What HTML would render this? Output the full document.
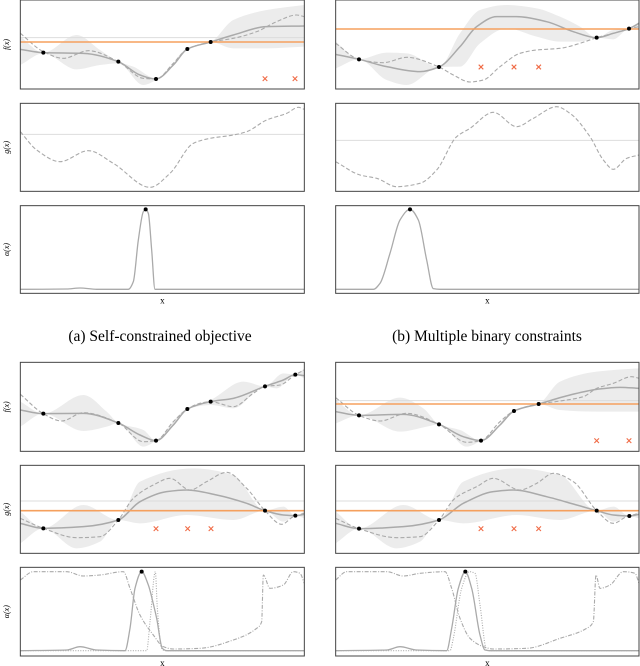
<!DOCTYPE html>
<html><head><meta charset="utf-8"><style>
html,body{margin:0;padding:0;background:#fff;}
svg{display:block;}
text{font-family:"Liberation Serif",serif;}
</style></head><body>
<svg id="fig" width="640" height="666" viewBox="0 0 640 666" xmlns="http://www.w3.org/2000/svg">
<text x="160" y="341" font-size="15.5" text-anchor="middle">(a) Self-constrained objective</text>
<text x="487" y="341" font-size="15.5" text-anchor="middle">(b) Multiple binary constraints</text>
</svg>
<script>
// ---- data (x in sample units, y in value units; larger y = lower on plot) ----
// Panel A (top-left)
const aFMean=[[61,148],[130,158],[250,160],[355,185],[420,225],[468,237],[520,195],[562,147],[632,126],[700,105],[800,80],[913,78]];
const aFTrue=[[61,100],[130,155],[190,175],[265,152],[355,185],[430,235],[468,237],[520,190],[562,147],[632,126],[700,115],[770,95],[830,65],[890,45],[913,50]];
const aFUp=[[61,110],[130,158],[230,105],[300,150],[355,185],[400,200],[468,235],[562,145],[632,126],[700,60],[800,30],[913,15]];
const aFLo=[[61,195],[130,160],[230,208],[300,195],[355,190],[430,255],[468,240],[562,150],[632,126],[700,145],[800,145],[913,140]];
const aFPts=[[130,158],[355,185],[468,237],[562,147],[632,126]];
const aFCross=[[795,236],[885,236]];
const aFOrange=126, aFThresh=113;
const aGTrue=[[61,395],[110,450],[180,485],[265,452],[340,490],[450,562],[510,520],[580,430],[630,415],[700,405],[740,395],[800,360],[860,340],[895,322],[913,328]];
const aGThresh=403;
const aAcq=[[61,868],[200,867],[240,864],[290,868],[385,868],[400,845],[415,720],[430,635],[437,628],[445,640],[455,750],[465,868],[913,868]];
const aAcqPt=[437,628];
// Panel B (top-right)
const bFMean=[[47,163],[117,178],[200,200],[300,215],[357,201],[420,140],[470,80],[530,50],[590,50],[680,65],[760,95],[830,113],[880,100],[927,86],[957,70]];
const bFTrue=[[47,130],[117,178],[190,188],[260,172],[357,201],[400,225],[450,246],[490,240],[540,200],[600,160],[650,150],[720,145],[780,130],[830,113],[880,100],[927,86],[957,80]];
const bFUp=[[47,125],[117,178],[200,158],[260,160],[357,201],[420,100],[480,30],[560,15],[650,25],[720,50],[780,80],[830,113],[880,90],[927,86],[957,65]];
const bFLo=[[47,205],[117,178],[200,240],[260,255],[357,201],[420,200],[480,130],[560,85],[650,110],[720,125],[780,125],[830,113],[880,118],[927,86],[957,85]];
const bFPts=[[117,178],[357,201],[830,113],[927,86]];
const bFCross=[[483,201],[582,201],[656,201]];
const bFOrange=87;
const bGTrue=[[47,485],[120,525],[170,535],[230,560],[300,550],[350,510],[410,410],[450,385],[520,337],[590,380],[640,355],[710,320],[750,340],[810,410],[850,480],[880,508],[920,475],[957,465]];
const bGThresh=421;
const bAcq=[[47,868],[160,868],[180,850],[210,760],[240,660],[270,628],[295,660],[320,780],[340,866],[360,868],[957,868]];
const bAcqPt=[270,628];
// Panel C (bottom-left)
const cFMean=[[61,165],[130,176],[250,175],[355,204],[420,240],[468,257],[520,210],[562,162],[632,140],[700,130],[795,94],[850,75],[886,59],[913,62]];
const cFTrue=[[61,118],[130,176],[185,198],[250,173],[355,204],[430,260],[468,257],[520,200],[562,162],[600,145],[632,140],[700,155],[760,115],[795,94],[840,90],[886,59],[913,45]];
const cFUp=[[61,140],[130,176],[250,120],[320,170],[355,204],[430,225],[468,257],[562,162],[632,135],[730,80],[795,94],[850,55],[886,59],[913,40]];
const cFLo=[[61,215],[130,176],[250,228],[320,215],[355,204],[430,275],[468,257],[562,162],[632,150],[700,160],[795,94],[830,100],[886,59],[913,70]];
const cFPts=[[130,176],[355,204],[468,257],[562,162],[632,140],[795,94],[886,59]];
const cGMean=[[61,505],[130,520],[250,515],[355,495],[420,440],[500,410],[560,405],[650,420],[740,445],[795,467],[850,480],[886,482],[913,478]];
const cGTrue=[[61,490],[130,520],[230,548],[300,545],[355,495],[400,430],[460,390],[510,370],[570,405],[620,380],[680,352],[740,400],[795,467],[845,508],[880,485],[913,475]];
const cGUp=[[61,470],[130,520],[250,450],[355,495],[420,380],[580,340],[700,360],[795,467],[850,455],[886,482],[913,470]];
const cGLo=[[61,565],[130,520],[230,580],[300,560],[355,495],[420,505],[560,480],[700,495],[795,467],[850,500],[886,482],[913,490]];
const cGPts=[[130,520],[355,495],[795,467],[886,482]];
const cGCross=[[468,521],[563,521],[633,521]];
const cGOrange=467, cGThresh=438;
const cAcqSolid=[[61,887],[200,885],[240,875],[290,885],[375,887],[390,820],[405,700],[425,650],[445,690],[462,755],[470,790],[487,880],[500,887],[913,887]];
const cAcqDot=[[61,887],[440,887],[450,800],[466,650],[472,760],[485,880],[495,887],[913,887]];
const cAcqDash=[[61,675],[100,650],[200,650],[250,663],[300,660],[370,650],[390,700],[420,780],[460,840],[490,875],[520,882],[600,880],[700,855],[770,820],[785,800],[790,660],[810,700],[850,690],[880,650],[900,655],[913,685]];
const cAcqPt=[425,650];
// Panel D (bottom-right)
const dFMean=[[47,170],[117,181],[250,178],[357,208],[430,245],[483,257],[540,210],[582,168],[656,147],[750,120],[830,103],[900,97],[957,100]];
const dFTrue=[[47,128],[117,181],[180,198],[260,175],[357,208],[440,262],[483,257],[540,200],[582,168],[656,147],[720,138],[790,125],[830,100],[880,85],[935,65],[957,70]];
const dFUp=[[47,135],[117,181],[240,128],[310,160],[357,208],[420,225],[483,257],[582,165],[656,147],[720,80],[830,50],[957,40]];
const dFLo=[[47,205],[117,181],[240,230],[320,215],[357,208],[440,275],[483,257],[582,172],[656,147],[720,165],[830,170],[957,170]];
const dFPts=[[117,181],[357,208],[483,257],[582,168],[656,147]];
const dFCross=[[830,257],[927,257]];
const dFOrange=147, dFThresh=137;
const dGMean=[[47,505],[117,521],[250,515],[357,495],[430,445],[520,410],[580,405],[680,425],[770,450],[830,467],[880,480],[928,483],[957,478]];
const dGTrue=[[47,490],[117,521],[230,548],[300,545],[357,495],[405,430],[470,395],[520,370],[600,405],[650,385],[700,355],[760,380],[830,467],[880,505],[920,485],[957,475]];
const dGUp=[[47,470],[117,521],[250,450],[357,495],[430,380],[590,340],[720,360],[830,467],[880,455],[928,483],[957,470]];
const dGLo=[[47,565],[117,521],[230,580],[300,560],[357,495],[430,505],[590,480],[720,495],[830,467],[880,500],[928,483],[957,490]];
const dGPts=[[117,521],[357,495],[830,467],[928,483]];
const dGCross=[[483,521],[582,521],[656,521]];
const dGOrange=467, dGThresh=438;
const dAcqSolid=[[47,887],[200,885],[240,875],[290,885],[380,887],[395,820],[415,700],[436,650],[455,700],[480,840],[495,885],[510,887],[957,887]];
const dAcqDot=[[47,887],[390,887],[400,850],[425,700],[448,650],[465,655],[480,750],[500,885],[510,887],[957,887]];
const dAcqDash=[[47,675],[80,650],[200,650],[250,663],[300,655],[375,650],[395,700],[420,790],[450,850],[490,875],[520,882],[620,880],[720,850],[800,820],[820,800],[828,660],[840,700],[870,690],[910,650],[945,655],[957,685]];
const dAcqPt=[436,650];

const NS="http://www.w3.org/2000/svg";
const svg=document.getElementById('fig');
const GRAY="#aaaaaa", ORANGE="#f5a05e", CROSS="#f06a45";
let clipId=0;
function mk(tag,attrs,parent){const e=document.createElementNS(NS,tag);for(const k in attrs)e.setAttribute(k,attrs[k]);(parent||svg).appendChild(e);return e;}
// monotone cubic (Fritsch-Carlson) path through points sorted by x
function smooth(pts,noMove){
  const n=pts.length;
  if(n<2)return '';
  const rev=pts[n-1][0]<pts[0][0];
  const P=rev?pts.slice().reverse():pts;
  const dx=[],s=[];
  for(let i=0;i<n-1;i++){dx[i]=P[i+1][0]-P[i][0];s[i]=dx[i]?(P[i+1][1]-P[i][1])/dx[i]:0;}
  const m=[s[0]];
  for(let i=1;i<n-1;i++){m[i]=(s[i-1]*s[i]<=0)?0:(3*(dx[i-1]+dx[i]))/((2*dx[i]+dx[i-1])/s[i-1]+(dx[i]+2*dx[i-1])/s[i]);}
  m[n-1]=s[n-2];
  let segs=[];
  for(let i=0;i<n-1;i++){const h=dx[i]/3;
    segs.push([P[i],[P[i][0]+h,P[i][1]+m[i]*h],[P[i+1][0]-h,P[i+1][1]-m[i+1]*h],P[i+1]]);}
  if(rev){segs=segs.reverse().map(sg=>[sg[3],sg[2],sg[1],sg[0]]);}
  const f=v=>v.toFixed(2);
  let d=(noMove?'L':'M')+f(segs[0][0][0])+','+f(segs[0][0][1]);
  segs.forEach(sg=>{d+=` C${f(sg[1][0])},${f(sg[1][1])} ${f(sg[2][0])},${f(sg[2][1])} ${f(sg[3][0])},${f(sg[3][1])}`;});
  return d;}

function panel(P){
  const sx=v=>P.ox+v/3, sy=v=>P.oy+v/3;
  const map=a=>a.map(p=>[sx(p[0]),sy(p[1])]);
  const g=mk('g',{});
  
  
  P.rows.forEach((R,ri)=>{
    const x0=sx(P.xr[0]),x1=sx(P.xr[1]),y0=sy(R.yr[0]),y1=sy(R.yr[1]);
    const id='c'+(clipId++);
    const cp=mk('clipPath',{id},g);mk('rect',{x:x0,y:y0,width:x1-x0,height:y1-y0},cp);
    const sg=mk('g',{'clip-path':`url(#${id})`},g);
    
    
    if(R.up){const u=map(R.up),l=map(R.lo).reverse();
      const band=mk('path',{d:smooth(u)+' '+smooth(l,true)+' Z',fill:'#ececec',stroke:'none'},sg);
      
      }
    if(R.thresh!=null){const t=mk('line',{x1:x0,x2:x1,y1:sy(R.thresh),y2:sy(R.thresh),stroke:'#dddddd','stroke-width':1},sg);
      
      }
    if(R.mean){const m=mk('path',{d:smooth(map(R.mean)),fill:'none',stroke:GRAY,'stroke-width':1.5},sg);
      
      }
    if(R.truth){const t=mk('path',{d:smooth(map(R.truth)),fill:'none',stroke:GRAY,'stroke-width':1.1,'stroke-dasharray':'4,2.2'},sg);
      
      }
    if(R.dash){const t=mk('path',{d:smooth(map(R.dash)),fill:'none',stroke:GRAY,'stroke-width':1.1,'stroke-dasharray':'4,1.5,1,1.5'},sg);
      
      }
    if(R.dot){const t=mk('path',{d:smooth(map(R.dot)),fill:'none',stroke:GRAY,'stroke-width':1.1,'stroke-dasharray':'1,1.5'},sg);
      
      }
    if(R.acq){const t=mk('path',{d:smooth(map(R.acq)),fill:'none',stroke:GRAY,'stroke-width':1.3},sg);
      
      }
    if(R.orange!=null){const o=mk('line',{x1:x0,x2:x1,y1:sy(R.orange),y2:sy(R.orange),stroke:ORANGE,'stroke-width':1.6},sg);
      
      }
    (R.cross||[]).forEach(c=>{const cx=sx(c[0]),cy=sy(c[1]);
      const cg=mk('g',{stroke:CROSS,'stroke-width':1.1},sg);
      
      
      mk('line',{x1:cx-2.3,y1:cy-2.3,x2:cx+2.3,y2:cy+2.3},cg);mk('line',{x1:cx-2.3,y1:cy+2.3,x2:cx+2.3,y2:cy-2.3},cg);});
    (R.pts||[]).forEach(p=>{const c=mk('circle',{cx:sx(p[0]),cy:sy(p[1]),r:2,fill:'#000'},sg);
      
      });
    const box=mk('rect',{x:x0,y:y0,width:x1-x0,height:y1-y0,fill:'none',stroke:'#444','stroke-width':1},g);
    
    
    if(P.ylabels){const cy=(y0+y1)/2;
      const t=mk('text',{x:0,y:0,'font-size':8,'text-anchor':'middle','font-style':'italic',transform:`translate(9,${cy}) rotate(-90)`},g);
      t.textContent=R.label;
      
      }
    if(ri===2){const t=mk('text',{x:(x0+x1)/2,y:y1+10,'font-size':9,'text-anchor':'middle'},g);
      t.textContent='x';
      
      }
  });
}
panel({name:'panel-a',ox:0,oy:0,xr:[61,913],ylabels:true,rows:[
  {key:'f',label:'f(x)',yr:[0,267],mean:aFMean,truth:aFTrue,up:aFUp,lo:aFLo,pts:aFPts,cross:aFCross,orange:aFOrange,thresh:aFThresh},
  {key:'g',label:'g(x)',yr:[310,574],truth:aGTrue,thresh:aGThresh},
  {key:'alpha',label:'α(x)',yr:[617,880],acq:aAcq,pts:[aAcqPt]}]});
panel({name:'panel-b',ox:320,oy:0,xr:[47,957],ylabels:false,rows:[
  {key:'f',label:'f(x)',yr:[0,267],mean:bFMean,truth:bFTrue,up:bFUp,lo:bFLo,pts:bFPts,cross:bFCross,orange:bFOrange},
  {key:'g',label:'g(x)',yr:[310,574],truth:bGTrue,thresh:bGThresh},
  {key:'alpha',label:'α(x)',yr:[617,880],acq:bAcq,pts:[bAcqPt]}]});
panel({name:'panel-c',ox:0,oy:355,xr:[61,913],ylabels:true,rows:[
  {key:'f',label:'f(x)',yr:[22,289],mean:cFMean,truth:cFTrue,up:cFUp,lo:cFLo,pts:cFPts},
  {key:'g',label:'g(x)',yr:[331,595],mean:cGMean,truth:cGTrue,up:cGUp,lo:cGLo,pts:cGPts,cross:cGCross,orange:cGOrange,thresh:cGThresh},
  {key:'alpha',label:'α(x)',yr:[637,903],acq:cAcqSolid,dot:cAcqDot,dash:cAcqDash,pts:[cAcqPt]}]});
panel({name:'panel-d',ox:320,oy:355,xr:[47,957],ylabels:false,rows:[
  {key:'f',label:'f(x)',yr:[22,289],mean:dFMean,truth:dFTrue,up:dFUp,lo:dFLo,pts:dFPts,cross:dFCross,orange:dFOrange,thresh:dFThresh},
  {key:'g',label:'g(x)',yr:[331,595],mean:dGMean,truth:dGTrue,up:dGUp,lo:dGLo,pts:dGPts,cross:dGCross,orange:dGOrange,thresh:dGThresh},
  {key:'alpha',label:'α(x)',yr:[637,903],acq:dAcqSolid,dot:dAcqDot,dash:dAcqDash,pts:[dAcqPt]}]});
</script>
</body></html>
